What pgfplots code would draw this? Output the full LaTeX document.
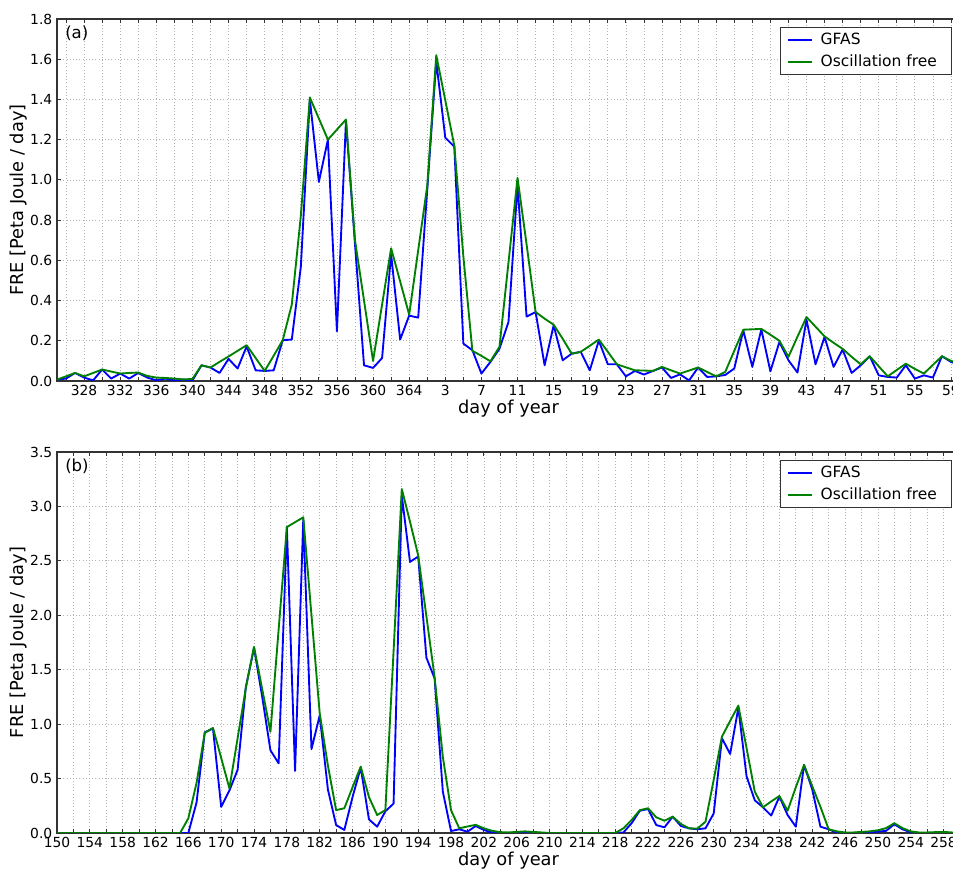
\documentclass[border=0pt]{standalone}
\usepackage{fontspec}
\setmainfont{DejaVu Sans}
\usepackage{pgfplots}
\pgfplotsset{compat=1.18}
\definecolor{mplblue}{rgb}{0,0,1}
\definecolor{mplgreen}{rgb}{0,0.5,0}
\pgfplotsset{
  panel/.style={
    scale only axis, width=677.25pt,
    axis line style={black!80, line width=0.8pt},
    tick pos=both, tick align=inside,
    major tick length=3pt, minor tick length=3pt,
    tick style={black!80, line width=0.6pt},
    grid=both,
    major grid style={gray!60, line width=0.55pt, dash pattern=on 0.8pt off 1.6pt},
    minor grid style={gray!60, line width=0.55pt, dash pattern=on 0.8pt off 1.6pt},
    tick label style={font=\fontsize{10.4}{12}\selectfont},
    /pgf/number format/assume math mode=true,
    yticklabel style={/pgf/number format/.cd, fixed, fixed zerofill, precision=1},
    xlabel={day of year},
    ylabel={FRE [Peta Joule / day]},
    label style={font=\fontsize{13.35}{16}\selectfont},
    xlabel style={at={(axis description cs:0.5,0)}, anchor=north, yshift=-14.25pt, inner sep=0pt},
    ylabel style={at={(axis description cs:-0.0329,0.5)}, anchor=south, inner sep=0pt},
    legend style={font=\fontsize{11.6}{13.5}\selectfont, at={(1,1)}, anchor=north east,
      xshift=-6pt, yshift=-6pt, draw=black!80, line width=0.75pt,
      inner xsep=5pt, inner ysep=1.5pt, row sep=0pt,
      nodes={inner xsep=6pt, inner ysep=3pt}},
    legend cell align=left,
    legend image code/.code={\draw[#1] (0pt,0pt) -- (18pt,0pt);},
    every axis plot/.append style={line width=1.4pt, line join=round},
  }
}
\begin{document}
\begin{tikzpicture}
\useasboundingbox (0,0) rectangle (714.75pt,652.5pt);
% ---------------- panel (a)
\begin{axis}[panel, at={(42.75pt,366.75pt)}, anchor=south west, height=271.5pt,
  xmin=325, xmax=425, ymin=0, ymax=1.8,
  ytick={0,0.2,0.4,0.6,0.8,1.0,1.2,1.4,1.6,1.8},
  xtick={328,332,...,424},
  xticklabels={328,332,336,340,344,348,352,356,360,364,3,7,11,15,19,23,27,31,35,39,43,47,51,55,59},
  minor xtick={326,330,...,426}]
\addplot[mplblue] coordinates {
(325,0.007) (326,0.012) (327,0.04) (328,0.017) (329,0.003) (330,0.057) (331,0.012) (332,0.037)
(333,0.012) (334,0.04) (335,0.017) (336,0.003) (337,0.012) (338,0.003) (339,0.007) (340,0.003)
(341,0.078) (342,0.067) (343,0.04) (344,0.11) (345,0.062) (346,0.172) (347,0.053) (348,0.05)
(349,0.053) (350,0.203) (351,0.206) (352,0.567) (353,1.40) (354,0.99) (355,1.20) (356,0.247)
(357,1.294) (358,0.68) (359,0.078) (360,0.065) (361,0.114) (362,0.63) (363,0.206) (364,0.325)
(365,0.315) (366,0.95) (367,1.588) (368,1.21) (369,1.165) (370,0.186) (371,0.153) (372,0.037)
(373,0.095) (374,0.16) (375,0.294) (376,0.974) (377,0.32) (378,0.343) (379,0.078) (380,0.277)
(381,0.103) (382,0.136) (383,0.145) (384,0.053) (385,0.20) (386,0.083) (387,0.083) (388,0.023)
(389,0.05) (390,0.032) (391,0.05) (392,0.067) (393,0.015) (394,0.033) (395,0.003) (396,0.067)
(397,0.02) (398,0.023) (399,0.03) (400,0.062) (401,0.252) (402,0.07) (403,0.256) (404,0.048)
(405,0.194) (406,0.103) (407,0.042) (408,0.305) (409,0.083) (410,0.219) (411,0.07) (412,0.156)
(413,0.04) (414,0.078) (415,0.123) (416,0.028) (417,0.02) (418,0.017) (419,0.078) (420,0.012)
(421,0.028) (422,0.017) (423,0.123) (424,0.095) (425,0.08)
};
\addlegendentry{GFAS}
\addplot[mplgreen] coordinates {
(325,0.007) (326,0.023) (327,0.04) (328,0.023) (329,0.04) (330,0.057) (331,0.047) (332,0.037)
(333,0.04) (334,0.042) (335,0.025) (336,0.017) (337,0.015) (338,0.012) (339,0.008) (340,0.01)
(341,0.078) (342,0.067) (343,0.095) (344,0.122) (345,0.15) (346,0.178) (347,0.114) (348,0.05)
(349,0.126) (350,0.203) (351,0.38) (352,0.82) (353,1.41) (354,1.305) (355,1.20) (356,1.25)
(357,1.30) (358,0.70) (359,0.40) (360,0.10) (361,0.38) (362,0.66) (363,0.495) (364,0.33)
(365,0.65) (366,0.97) (367,1.62) (368,1.395) (369,1.17) (370,0.62) (371,0.15) (372,0.125)
(373,0.098) (374,0.17) (375,0.59) (376,1.01) (377,0.68) (378,0.343) (379,0.31) (380,0.28)
(381,0.21) (382,0.135) (383,0.145) (384,0.175) (385,0.206) (386,0.145) (387,0.083) (388,0.068)
(389,0.053) (390,0.052) (391,0.05) (392,0.07) (393,0.053) (394,0.037) (395,0.052) (396,0.067)
(397,0.045) (398,0.023) (399,0.045) (400,0.15) (401,0.255) (402,0.257) (403,0.259) (404,0.23)
(405,0.2) (406,0.12) (407,0.22) (408,0.318) (409,0.27) (410,0.222) (411,0.19) (412,0.16)
(413,0.12) (414,0.083) (415,0.123) (416,0.073) (417,0.023) (418,0.055) (419,0.086) (420,0.06)
(421,0.037) (422,0.08) (423,0.123) (424,0.1) (425,0.085)
};
\addlegendentry{Oscillation free}
\node[anchor=north west, inner sep=0pt, font=\fontsize{12.4}{14}\selectfont, xshift=6pt, yshift=-5.25pt] at (rel axis cs:0,1) {(a)};
\end{axis}
% ---------------- panel (b)
\begin{axis}[panel, at={(42.75pt,27.75pt)}, anchor=south west, height=285.75pt,
  xmin=150, xmax=260, ymin=0, ymax=3.5,
  ytick={0,0.5,1.0,1.5,2.0,2.5,3.0,3.5},
  xtick={150,154,...,258},
  minor xtick={152,156,...,260}]
\addplot[mplblue] coordinates {
(150,0) (151,0) (152,0) (153,0) (154,0) (155,0) (156,0) (157,0) (158,0) (159,0) (160,0)
(161,0) (162,0) (163,0) (164,0) (165,0) (166,0) (167,0.28) (168,0.925) (169,0.96) (170,0.24)
(171,0.39) (172,0.58) (173,1.34) (174,1.70) (175,1.25) (176,0.76) (177,0.64) (178,2.81)
(179,0.57) (180,2.88) (181,0.77) (182,1.08) (183,0.40) (184,0.073) (185,0.028) (186,0.33)
(187,0.60) (188,0.125) (189,0.058) (190,0.20) (191,0.27) (192,3.10) (193,2.49) (194,2.54)
(195,1.61) (196,1.42) (197,0.38) (198,0.018) (199,0.034) (200,0.012) (201,0.064) (202,0.028)
(203,0.003) (204,0) (205,0) (206,0.005) (207,0.008) (208,0.005) (209,0) (210,0) (211,0)
(212,0) (213,0) (214,0) (215,0) (216,0) (217,0) (218,0) (219,0.005) (220,0.09) (221,0.205)
(222,0.22) (223,0.073) (224,0.052) (225,0.15) (226,0.064) (227,0.043) (228,0.034) (229,0.043)
(230,0.18) (231,0.87) (232,0.726) (233,1.15) (234,0.52) (235,0.30) (236,0.236) (237,0.16)
(238,0.334) (239,0.165) (240,0.058) (241,0.625) (242,0.40) (243,0.058) (244,0.034) (245,0.003)
(246,0) (247,0) (248,0.003) (249,0.008) (250,0.012) (251,0.02) (252,0.08) (253,0.034)
(254,0.006) (255,0) (256,0) (257,0) (258,0) (259,0) (260,0)
};
\addlegendentry{GFAS}
\addplot[mplgreen] coordinates {
(150,0) (151,0) (152,0) (153,0) (154,0) (155,0) (156,0) (157,0) (158,0) (159,0) (160,0)
(161,0) (162,0) (163,0) (164,0) (165,0) (166,0.135) (167,0.46) (168,0.92) (169,0.965) (170,0.69)
(171,0.41) (172,0.87) (173,1.33) (174,1.71) (175,1.32) (176,0.93) (177,1.87) (178,2.81)
(179,2.855) (180,2.90) (181,2.0) (182,1.10) (183,0.62) (184,0.21) (185,0.227) (186,0.42)
(187,0.61) (188,0.33) (189,0.165) (190,0.21) (191,1.67) (192,3.16) (193,2.86) (194,2.55)
(195,1.99) (196,1.43) (197,0.70) (198,0.21) (199,0.043) (200,0.06) (201,0.075) (202,0.043)
(203,0.02) (204,0.008) (205,0.005) (206,0.01) (207,0.015) (208,0.01) (209,0.005) (210,0)
(211,0) (212,0) (213,0) (214,0) (215,0) (216,0) (217,0) (218,0) (219,0.043) (220,0.12)
(221,0.21) (222,0.227) (223,0.144) (224,0.113) (225,0.15) (226,0.083) (227,0.043) (228,0.04)
(229,0.104) (230,0.49) (231,0.885) (232,1.03) (233,1.17) (234,0.78) (235,0.38) (236,0.236)
(237,0.29) (238,0.34) (239,0.205) (240,0.42) (241,0.625) (242,0.43) (243,0.24) (244,0.034)
(245,0.015) (246,0.005) (247,0.005) (248,0.01) (249,0.015) (250,0.025) (251,0.045) (252,0.09)
(253,0.045) (254,0.015) (255,0.005) (256,0.005) (257,0.008) (258,0.01) (259,0.005) (260,0)
};
\addlegendentry{Oscillation free}
\node[anchor=north west, inner sep=0pt, font=\fontsize{12.4}{14}\selectfont, xshift=6pt, yshift=-5.25pt] at (rel axis cs:0,1) {(b)};
\end{axis}
\end{tikzpicture}
\end{document}
